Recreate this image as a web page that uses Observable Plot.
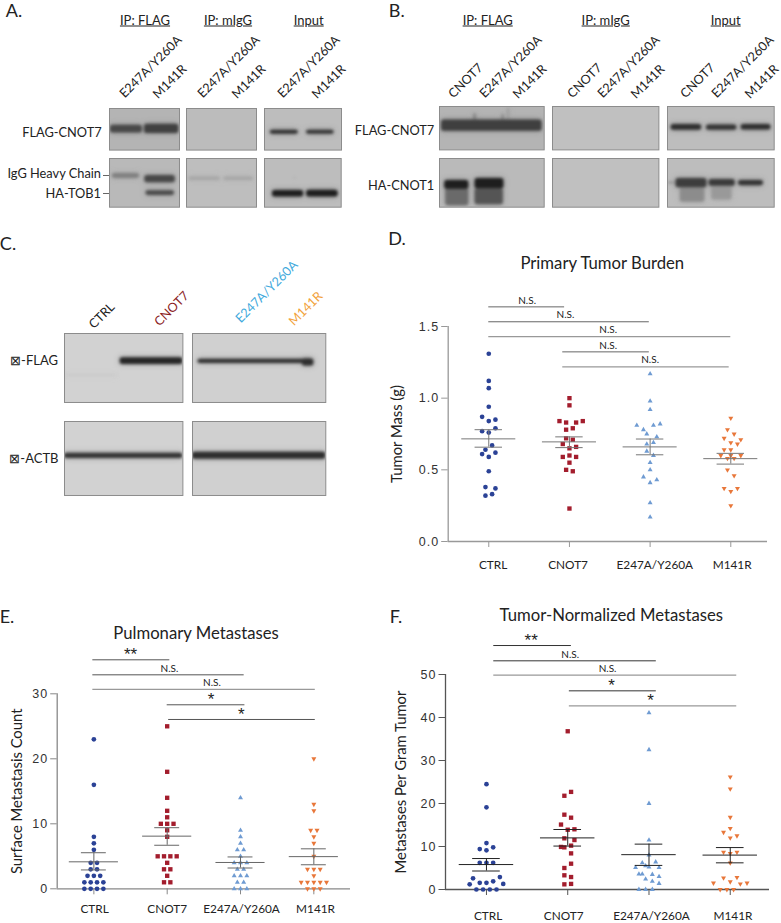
<!DOCTYPE html>
<html><head><meta charset="utf-8">
<script src="https://cdn.jsdelivr.net/npm/d3@7"></script>
<script src="https://cdn.jsdelivr.net/npm/@observablehq/plot@0.6"></script>
<style>
html,body{margin:0;padding:0;background:#fff}
#page{position:relative;width:781px;height:923px;overflow:hidden;font-family:Lato,"Open Sans",sans-serif;color:#222}
#page svg{position:absolute;background:transparent;overflow:visible}
.t{position:absolute;white-space:nowrap;line-height:1;transform:translate(-50%,-50%)}
.r{position:absolute;white-space:nowrap;line-height:1;transform:translate(-100%,-50%)}
.tick{position:absolute;height:1px;background:#666}
</style></head><body><div id="page"></div>
<script>
const groups = ["CTRL","CNOT7","E247A/Y260A","M141R"];
const groupColors = ["#2b4296","#a31d2d","#6f9bd2","#e8773a"];

// Panel D: primary tumor mass (g), swarm slot of each animal
const massCtrl = [1.31,1.12,1.07,0.94,0.87,0.84,0.85,0.79,0.76,0.77,0.67,0.64,0.61,0.62,0.59,0.49,0.38,0.37,0.32,0.33];
const massCtrlSlot = [0,0,0,0,-2,0,2,2,0,-2,1,-1,-2,2,0,0,-1,2,-1,1];
const massCnot7 = [1.0,0.95,0.84,0.83,0.83,0.84,0.79,0.78,0.72,0.71,0.68,0.66,0.65,0.59,0.60,0.59,0.55,0.50,0.49,0.23];
const massCnot7Slot = [0,0,-3,-1,2,4,1,-1,-1,1,-2,2,0,-2,0,2,0,-1,1,0];
const massMut = [1.17,0.98,0.92,0.81,0.81,0.82,0.78,0.75,0.73,0.68,0.69,0.63,0.60,0.55,0.50,0.45,0.43,0.41,0.27,0.17];
const massMutSlot = [0,0,0,-4,1,3,-2,-1,2,-1,1,-1,1,0,0,-2,2,0,0,0];
const massM141 = [0.86,0.78,0.75,0.72,0.71,0.69,0.68,0.64,0.64,0.60,0.60,0.58,0.58,0.50,0.46,0.37,0.37,0.35,0.25,0.60];
const massM141Slot = [0,-1,1,-2,3,0,2,-2,0,-3,3,-1,1,-1,1,-2,2,0,0,0];
const massMean = [0.716,0.695,0.66,0.578];
const massHi = [0.78,0.73,0.715,0.615];
const massLo = [0.658,0.655,0.605,0.54];
const massSigFrom = [0,0,0,0.917,0.917];
const massSigTo = [0.94,1.99,3,1.99,2.98];
const massSigLevel = [1.637,1.533,1.43,1.323,1.219];
const massSigText = ["N.S.","N.S.","N.S.","N.S.","N.S."];
const massSigTextAt = [0.475,0.95,1.48,1.48,2.0];

// Panel E: surface metastasis counts
const countCtrl = [23,16,8,7,6,4,4,3,3,2,2,2,1,1,1,1,0,0,0,0];
const countCtrlSlot = [0,0,0,0,0,-1,1,-1,1,-2,0,2,-3,-1,1,3,-3,-1,1,3];
const countCnot7 = [25,18,14,12,11,10,10,10,9,8,5,5,5,5,4,3,3,2,1,1];
const countCnot7Slot = [0,0,0,0,0,-2,0,2,0,0,-3,-1,1,3,0,-1,1,0,-1,1];
const countMut = [14,9,8,7,6,6,5,4,4,4,3,3,2,2,2,1,1,0,0,0];
const countMutSlot = [0,0,0,0,-1,1,0,-2,0,2,-1,1,-2,0,2,-1,1,-2,0,2];
const countM141 = [20,13,12,9,9,8,7,5,3,3,3,2,1,1,1,1,1,0,0,0];
const countM141Slot = [0,0,0,-1,1,0,0,0,-2,0,2,0,-4,-2,0,2,4,-2,0,2];
const countMean = [4.15,8.1,4.05,4.95];
const countHi = [5.55,9.4,4.9,6.15];
const countLo = [2.9,6.7,3.2,3.7];
const countSigFrom = [-0.014,-0.014,-0.014,1,1.02];
const countSigTo = [1.036,2.05,3.02,2.06,3.02];
const countSigLevel = [35.23,32.92,30.67,28.31,26.05];
const countSigText = ["**","N.S.","N.S.","*","*"];
const countSigTextAt = [0.5,1.03,1.61,1.6,2.01];

// Panel F: metastases per gram tumor
const normCtrl = [24.5,19.1,10.8,9.4,9.8,9.1,6.2,6.2,6.2,2.6,2.9,1.55,1.55,1.9,1.2,1.3,0,0,0,0];
const normCtrlSlot = [0,0,0,-2,2,0,-2,0,2,-4,4,-2,0,2,-5,5,-3,-1,1,3];
const normCnot7 = [36.8,22.7,21.8,17.4,16.7,15.1,13.9,14,11.9,11.5,9.9,9.8,10.2,8.4,6,5,3.3,2.9,1.2,1.3];
const normCnot7Slot = [0,1,-1,-1,1,-2,0,2,-1,2,-2,-1,1,1,1,-1,-1,1,-1,1];
const normMut = [41.1,32.5,20,11.5,8,6.2,6.4,5.5,5.2,5.1,5.1,3.6,3.6,3.5,3,2.4,1.9,1.4,0,0,0];
const normMutSlot = [0,0,0,0,0,-2,2,-1,0,-4,3,-3,-2,1,3,-1,1,3,-3,-1,1];
const normM141 = [26.2,23.4,16.8,14.2,13.3,12.5,12,8.7,8.7,8.4,6.2,2.7,2.8,1.8,1.5,1.3,1.5,0,0,0];
const normM141Slot = [0,0,0,0,-2,2,0,-2,2,0,0,-2,2,0,-5,3,5,-3,-1,1];
const normMean = [5.8,12,8.1,8];
const normHi = [7.2,13.95,10.55,9.75];
const normLo = [4.3,10.1,5.6,6.2];
const normSigFrom = [0.09,0.09,0.09,1.02,1.02];
const normSigTo = [1.045,2.09,3.08,2.09,3.08];
const normSigLevel = [56.74,53.18,49.84,46.2,42.71];
const normSigText = ["**","N.S.","N.S.","*","*"];
const normSigTextAt = [0.55,1.03,1.49,1.54,2.02];

// Western blot bands, in percent of blot width and height: from, to, top, bottom, tone
const aFlagIp = [[1.4,47,40,59,"#484848"],[50,99,38,60,"#404040"]];
const aFlagInput = [[7.4,44,52,62,"#2e2e2e"],[54.5,90.5,52,62,"#333"]];
const aTobIp = [[4,43,31,41,"#808080"],[50.5,94,35,50,"#484848"],[52,93,66,76,"#4a4a4a"]];
const aTobIgg = [[3,48.5,38,45,"#a6a6a6"],[53,96,38,45,"#a6a6a6"]];
const aTobInput = [[10.5,51,65.5,79,"#1e1e1e"],[55,96,65,79,"#1e1e1e"],[39.2,40.4,40,41.5,"#555"]];
const bFlagIp = [[33,35,16,40,"#777"],[60,61.5,18,40,"#777"],[65.5,66.5,3,40,"#888"],[2,98,31,57,"#3f3f3f"]];
const bFlagInput = [[3.4,32,41.5,55,"#2e2e2e"],[36.5,65,42.5,55,"#333"],[69,97,41.5,54,"#2e2e2e"]];
const bCnotIp = [[6,28,62,97,"#6a6a6a"],[34,61,62,95,"#555"],[5,28,45,63,"#1e1e1e"],[34,61.5,41,62,"#1e1e1e"]];
const bCnotInput = [[12,35,60,90,"#8c8c8c"],[41.5,60.5,57,85,"#999"],[0,8,49,52,"#888"],[8,37,41,60,"#3d3d3d"],[39,63.5,43,57,"#3a3a3a"],[66.5,90,45,56,"#333"]];
const cFlagLeft = [[0,45,60,61.5,"#c4c4c4"],[47,100,35,45,"#262626"]];
const cFlagRight = [[4,91,37.5,43.5,"#2f2f2f"],[82.5,91,37,47,"#2f2f2f"]];
const cActbLeft = [[0,100,43,50,"#333"]];
const cActbRight = [[0,100,41.5,51,"#2e2e2e"]];

const page = document.getElementById("page");
const CAL = "Lato,'Open Sans',sans-serif";

function put(el, left, top) { el.style.left = left + "px"; el.style.top = top + "px"; page.appendChild(el); }

function label(text, x, y, {size=13, rotate=0, color="#222", underline=false, right=false}={}) {
  const d = document.createElement("div");
  d.className = right ? "r" : "t";
  d.textContent = text;
  d.style.fontSize = size + "px";
  d.style.color = color;
  if (underline) d.style.textDecoration = "underline";
  if (rotate) d.style.transform = `translate(-50%,-50%) rotate(${rotate}deg)`;
  put(d, x, y);
}
function tick(x1, x2, y) {
  const d = document.createElement("div");
  d.className = "tick"; d.style.width = (x2 - x1) + "px"; put(d, x1, y);
}

function gel(left, top, right, bottom, bands, bg) {
  const w = right - left, h = bottom - top;
  const box = {x1: d => d[0], x2: d => d[1], y1: d => d[2], y2: d => d[3], fill: d => d[4], rx: 2.5, clip: true};
  const svg = Plot.plot({
    width: w, height: h, margin: 0,
    x: {domain: [0, 100], range: [0, w], axis: null},
    y: {domain: [0, 100], range: [0, h], axis: null},
    style: {background: "transparent", overflow: "visible"},
    marks: [
      Plot.frame({fill: bg, stroke: "none"}),
      Plot.rect(bands, {...box, fillOpacity: 0.35, imageFilter: "blur(3px)"}),
      Plot.rect(bands, {...box, imageFilter: "blur(1.4px)"}),
      Plot.frame({stroke: "#8c8c8c", strokeWidth: 1})
    ]
  });
  put(svg, left, top);
}

function panel(o) {
  const rows = [];
  o.series.forEach(([vals, slots], g) => vals.forEach((v, i) => rows.push({g, v, x: g + slots[i] * o.slotUnit})));
  const idx = [0, 1, 2, 3];
  const sigIdx = o.sigLevel.map((_, i) => i);
  const marks = [
    Plot.ruleY([0], {stroke: o.axisColor, strokeWidth: 1.3}),
    Plot.ruleX([o.xDomain[0]], {y1: 0, y2: o.yMax, stroke: o.axisColor, strokeWidth: 1.3}),
    Plot.axisY({ticks: o.ticks, tickFormat: o.fmt, label: null, tickSize: 6.5, tickPadding: 2.5, fontSize: 12.5, fontFamily: "Liberation Sans", stroke: o.axisColor, color: "#333"}),
    Plot.axisX({ticks: idx, tickFormat: () => "", label: null, tickSize: 6, stroke: o.axisColor}),
    Plot.text(groups, {x: (d, i) => i + o.nameNudge[i], y: 0, dy: o.nameDy, fontSize: 11.8, fill: "#222", fontFamily: CAL}),
    Plot.text([o.yLabel], {frameAnchor: "left", textAnchor: "middle", dx: o.yLabelDx, rotate: -90, fontSize: o.yLabelSize, fill: "#222", fontFamily: CAL}),
    Plot.ruleY(sigIdx, {y: i => o.sigLevel[i], x1: i => o.sigFrom[i], x2: i => o.sigTo[i],
      stroke: i => o.paleBars.includes(i) ? "pale" : "dark", strokeWidth: i => o.paleBars.includes(i) ? 1.3 : 1}),
    Plot.text(sigIdx.filter(i => o.sigText[i] !== "*" && o.sigText[i] !== "**"), {x: i => o.sigTextAt[i], y: i => o.sigLevel[i], dy: -6.5, text: i => o.sigText[i], fontSize: 10, fill: "#222", fontFamily: CAL}),
    Plot.text(sigIdx.filter(i => o.sigText[i] === "*" || o.sigText[i] === "**"), {x: i => o.sigTextAt[i], y: i => o.sigLevel[i], dy: -5, text: i => o.sigText[i], fontSize: 17, fill: "#222", fontFamily: "Liberation Sans"}),
    ...idx.map(g => Plot.dot(rows.filter(r => r.g === g), {x: "x", y: "v", r: g === 0 ? 2.35 : g === 1 ? 2.45 : 1.85,
      symbol: ["circle","square","triangle","triangle"][g], rotate: g === 3 ? 180 : 0, fill: groupColors[g], stroke: "none"})),
    Plot.ruleY(idx, {y: i => o.mean[i], x1: i => i - 0.335, x2: i => i + 0.335, stroke: o.statColor, strokeWidth: 1}),
    Plot.ruleY(idx, {y: i => o.hi[i], x1: i => i - 0.17, x2: i => i + 0.17, stroke: o.statColor, strokeWidth: 1}),
    Plot.ruleY(idx, {y: i => o.lo[i], x1: i => i - 0.17, x2: i => i + 0.17, stroke: o.statColor, strokeWidth: 1}),
    Plot.ruleX(idx, {x: i => i, y1: i => o.lo[i], y2: i => o.hi[i], stroke: o.statColor, strokeWidth: 1})
  ];
  const svg = Plot.plot({
    width: o.width, height: o.height,
    marginLeft: o.mL, marginRight: o.mR, marginTop: o.mT, marginBottom: o.mB,
    x: {type: "linear", domain: o.xDomain, axis: null},
    y: {domain: [0, o.yMax], axis: null},
    color: {type: "ordinal", domain: ["dark","pale"], range: [o.darkBar, "#999999"]},
    style: {background: "transparent", overflow: "visible", fontFamily: CAL},
    marks
  });
  svg.querySelectorAll('[aria-label="y-axis tick label"]').forEach(n => n.style.letterSpacing = "1px");
  put(svg, o.left, o.top);
}

// ---- Blots A
label("A.", 14, 9.5, {size: 18});
label("IP: FLAG", 145, 20, {size: 13, underline: true});
label("IP: mIgG", 228, 20, {size: 13, underline: true});
label("Input", 308.7, 20, {size: 13, underline: true});
for (const [a, b] of [[151,170],[229.3,249.3],[309,329]]) {
  label("E247A/Y260A", a, 66.7, {size: 12.6, rotate: -45});
  label("M141R", b, 81.7, {size: 12.6, rotate: -45});
}
label("FLAG-CNOT7", 101.7, 131.7, {size: 12.8, right: true});
label("IgG Heavy Chain", 101, 172.7, {size: 12.8, right: true});
label("HA-TOB1", 101, 192.7, {size: 12.8, right: true});
tick(102.5, 109, 175); tick(103, 109, 192.7);
gel(109, 107.7, 179, 149.3, aFlagIp, "#b4b4b4");
gel(186, 107.7, 256, 149.3, [], "#bcbcbc");
gel(263.7, 107.7, 340.7, 149.3, aFlagInput, "#bdbdbd");
gel(109, 158, 179, 206.7, aTobIp, "#b9b9b9");
gel(186, 158, 256, 206.7, aTobIgg, "#bebebe");
gel(264.3, 158, 341, 206.7, aTobInput, "#bdbdbd");

// ---- Blots B
label("B.", 396.7, 9.5, {size: 18});
label("IP: FLAG", 487.7, 20, {size: 13, underline: true});
label("IP: mIgG", 605.7, 20, {size: 13, underline: true});
label("Input", 725.7, 20, {size: 13, underline: true});
for (const [a, b, c] of [[466,511,530],[585,629,648.3],[697.7,742.7,761.7]]) {
  label("CNOT7", a, 81, {size: 12.6, rotate: -45});
  label("E247A/Y260A", b, 66.7, {size: 12.6, rotate: -45});
  label("M141R", c, 81.7, {size: 12.6, rotate: -45});
}
label("FLAG-CNOT7", 434.3, 130, {size: 12.8, right: true});
label("HA-CNOT1", 434.3, 185, {size: 12.8, right: true});
gel(439, 106.3, 543.7, 149.7, bFlagIp, "#b4b4b4");
gel(552.3, 106.3, 658.7, 149.7, [], "#c0c0c0");
gel(667.3, 106.3, 774, 149.7, bFlagInput, "#bdbdbd");
gel(439, 158, 543.7, 206.7, bCnotIp, "#bababa");
gel(552.3, 158, 658.7, 206.7, [], "#c0c0c0");
gel(667.3, 158, 774, 206.7, bCnotInput, "#bdbdbd");

// ---- Blots C
label("C.", 8, 243, {size: 18});
label("CTRL", 101.7, 315.7, {size: 12.6, rotate: -45, color: "#222"});
label("CNOT7", 172, 309, {size: 12.6, rotate: -45, color: "#8a1c24"});
label("E247A/Y260A", 266.7, 291.7, {size: 12.6, rotate: -45, color: "#3fa9dc"});
label("M141R", 306, 309, {size: 12.6, rotate: -45, color: "#f2a23c"});
label("\u22A0-FLAG", 58, 360, {size: 13, right: true});
label("\u22A0-ACTB", 58.5, 458.3, {size: 13, right: true});
gel(64.3, 333.3, 182.7, 402.3, cFlagLeft, "#d2d2d2");
gel(191.7, 333.3, 325, 402.3, cFlagRight, "#d0d0d0");
gel(64.3, 421.3, 182.7, 495.3, cActbLeft, "#d2d2d2");
gel(191.7, 421.3, 325, 495.3, cActbRight, "#d0d0d0");

// ---- Scatter panels
label("D.", 397, 238, {size: 18});
label("Primary Tumor Burden", 602.3, 262.7, {size: 16.7});
panel({left: 385, top: 240, width: 390, height: 340, mL: 62.7, mR: 8, mT: 86, mB: 39,
  xDomain: [-0.503, 3.455], yMax: 1.5, ticks: [0,0.5,1,1.5], fmt: d3.format(".1f"),
  series: [[massCtrl,massCtrlSlot],[massCnot7,massCnot7Slot],[massMut,massMutSlot],[massM141,massM141Slot]],
  slotUnit: 0.0413, mean: massMean, hi: massHi, lo: massLo,
  sigFrom: massSigFrom, sigTo: massSigTo, sigLevel: massSigLevel, sigText: massSigText, sigTextAt: massSigTextAt,
  paleBars: [2,4], darkBar: "#666", axisColor: "#999", statColor: "#777",
  nameNudge: [0.054,-0.017,0.058,0.017], nameDy: 24, yLabel: "Tumor Mass (g)", yLabelDx: -51, yLabelSize: 14.8});

label("E.", 7, 616, {size: 18});
label("Pulmonary Metastases", 196, 632.7, {size: 16.7});
panel({left: 0, top: 610, width: 355, height: 313, mL: 56.7, mR: 5, mT: 83.3, mB: 34.7,
  xDomain: [-0.5, 3.5], yMax: 30, ticks: [0,10,20,30], fmt: d3.format("d"),
  series: [[countCtrl,countCtrlSlot],[countCnot7,countCnot7Slot],[countMut,countMutSlot],[countM141,countM141Slot]],
  slotUnit: 0.0432, mean: countMean, hi: countHi, lo: countLo,
  sigFrom: countSigFrom, sigTo: countSigTo, sigLevel: countSigLevel, sigText: countSigText, sigTextAt: countSigTextAt,
  paleBars: [2], darkBar: "#555", axisColor: "#888", statColor: "#666",
  nameNudge: [0.01,0,0.014,0.023], nameDy: 20.7, yLabel: "Surface Metastasis Count", yLabelDx: -40, yLabelSize: 14.8});

label("F.", 396, 616, {size: 18});
label("Tumor-Normalized Metastases", 611.3, 615, {size: 16.7});
panel({left: 390, top: 610, width: 381, height: 313, mL: 55, mR: 2, mT: 64, mB: 34,
  xDomain: [-0.504, 3.483], yMax: 50, ticks: [0,10,20,30,40,50], fmt: d3.format("d"),
  series: [[normCtrl,normCtrlSlot],[normCnot7,normCnot7Slot],[normMut,normMutSlot],[normM141,normM141Slot]],
  slotUnit: 0.0413, mean: normMean, hi: normHi, lo: normLo,
  sigFrom: normSigFrom, sigTo: normSigTo, sigLevel: normSigLevel, sigText: normSigText, sigTextAt: normSigTextAt,
  paleBars: [2,4], darkBar: "#333", axisColor: "#555", statColor: "#222",
  nameNudge: [0.02,-0.05,0.03,0.033], nameDy: 26.7, yLabel: "Metastases Per Gram Tumor", yLabelDx: -44, yLabelSize: 14.8});
</script></body></html>
